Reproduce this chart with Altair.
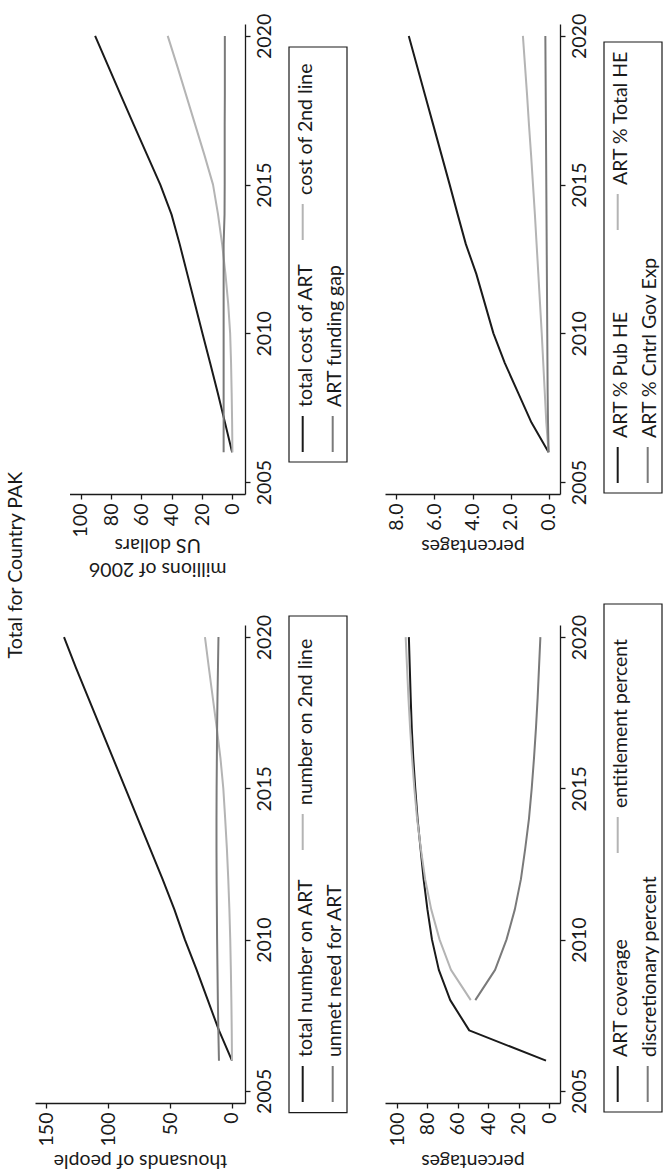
import altair as alt
import pandas as pd

FONT = "Lato"
FS = 19.5
BLACK = "#1a1a1a"
LIGHT = "#b4b4b4"
MID = "#7a7a7a"

years = [2006, 2007, 2008, 2009, 2010, 2011, 2012, 2013, 2014, 2015, 2016, 2017, 2018, 2019, 2020]
years_split = [2008, 2009, 2010, 2011, 2012, 2013, 2014, 2015, 2016, 2017, 2018, 2019, 2020]
year_ticks = [2005, 2010, 2015, 2020]

# thousands of people
total_on_art = [0.0, 10.5, 19.5, 28.5, 38.0, 46.5, 56.0, 66.0, 76.0, 86.0, 96.0, 106.0, 116.0, 126.0, 135.5]
on_2nd_line = [0.0, 0.2, 0.5, 0.9, 1.4, 2.1, 3.0, 4.1, 5.5, 7.0, 9.3, 12.3, 15.5, 18.7, 21.8]
unmet_need = [10.5, 11.0, 11.4, 11.7, 12.0, 12.2, 12.4, 12.5, 12.5, 12.4, 12.2, 12.0, 11.7, 11.3, 10.9]
people_ticks = [0, 50, 100, 150]

# millions of 2006 US dollars
total_cost = [0.2, 4.9, 9.7, 14.7, 19.8, 24.8, 29.8, 34.8, 40.2, 47.6, 56.3, 65.0, 73.6, 82.1, 90.6]
cost_2nd = [0.0, 0.2, 0.5, 0.9, 1.5, 2.8, 4.6, 6.8, 9.5, 12.8, 18.5, 24.5, 30.5, 36.5, 42.7]
funding_gap = [5.8, 5.8, 5.8, 5.8, 5.8, 5.8, 5.8, 5.8, 5.2, 5.1, 5.1, 5.1, 5.0, 5.0, 5.0]
dollar_ticks = [0, 20, 40, 60, 80, 100]

# percentages (coverage)
art_coverage = [2.0, 52.5, 65.0, 72.5, 77.0, 80.0, 82.5, 84.5, 86.5, 88.0, 89.3, 90.3, 91.0, 91.6, 92.2]
entitlement = [51.5, 64.5, 72.0, 77.5, 81.5, 84.3, 86.8, 88.6, 90.1, 91.4, 92.5, 93.4, 94.3]
discretionary = [48.5, 35.5, 28.0, 22.5, 18.5, 15.7, 13.2, 11.4, 9.9, 8.6, 7.5, 6.6, 5.7]
pct_ticks = [0, 20, 40, 60, 80, 100]

# percentages (spending shares)
pct_pub_he = [0.0, 0.9, 1.6, 2.3, 2.9, 3.35, 3.8, 4.35, 4.78, 5.2, 5.63, 6.06, 6.49, 6.92, 7.35]
pct_total_he = [0.0, 0.12, 0.2, 0.28, 0.36, 0.45, 0.54, 0.63, 0.72, 0.82, 0.92, 1.03, 1.13, 1.24, 1.35]
pct_cntrl_gov = [0.0, 0.03, 0.05, 0.06, 0.07, 0.08, 0.09, 0.1, 0.11, 0.12, 0.13, 0.14, 0.15, 0.16, 0.17]
share_ticks = [0, 2, 4, 6, 8]

TOP_H = 470
BOT_H = 478
W1 = 210
W2 = 175
YDOM = [2004.6, 2020.4]


def long_df(series):
    rows = []
    for name, yrs, vals in series:
        for y, v in zip(yrs, vals):
            rows.append({"year": y, "value": v, "series": name})
    return pd.DataFrame(rows)


dummy = pd.DataFrame({"k": [0]})


def legend_layers(width, box, entries):
    layers = [
        alt.Chart(dummy).mark_rect(fillOpacity=0, stroke=BLACK, strokeWidth=1.2).encode(
            x=alt.value(width + 44), x2=alt.value(width + 102),
            y=alt.value(box[0]), y2=alt.value(box[1]))
    ]
    for label, color, row, sym_start in entries:
        sx = width + (57.7 if row == 0 else 87.7)
        tx = width + (66.5 if row == 0 else 96)
        layers.append(
            alt.Chart(dummy).mark_rule(strokeWidth=2, color=color).encode(
                x=alt.value(sx), y=alt.value(sym_start), y2=alt.value(sym_start - 36)))
        layers.append(
            alt.Chart(dummy).mark_text(angle=270, align="left", baseline="alphabetic",
                                       font=FONT, fontSize=FS, color=BLACK).encode(
                x=alt.value(tx), y=alt.value(sym_start - 45), text=alt.value(label)))
    return layers


def panel(series, colors, dom, rng, ticks, fmt, title, width, height, box, entries,
          title_y=None):
    df = long_df(series)
    names = [s[0] for s in series]
    axis_kw = dict(values=ticks, format=fmt, title=title, orient="bottom",
                   labelAngle=270, labelAlign="right", labelBaseline="middle",
                   labelPadding=4, tickSize=5, titleAngle=180, titleLineHeight=24,
                   labelFlush=False, labelOverlap=False, grid=False)
    if title_y is None:
        axis_kw.update(titleBaseline="bottom", titlePadding=5)
    else:
        axis_kw.update(titleBaseline="alphabetic", titleY=title_y)
    lines = alt.Chart(df).mark_line(strokeWidth=2, strokeJoin="round").encode(
        x=alt.X("value:Q",
                scale=alt.Scale(domain=dom, range=rng, nice=False, zero=False),
                axis=alt.Axis(**axis_kw)),
        y=alt.Y("year:Q",
                scale=alt.Scale(domain=YDOM, nice=False, zero=False),
                axis=alt.Axis(values=year_ticks, format="d", title=None, orient="right",
                              labelAngle=270, labelAlign="center", labelBaseline="top",
                              labelPadding=5, tickSize=5, labelFlush=False,
                              labelOverlap=False, grid=False)),
        color=alt.Color("series:N", scale=alt.Scale(domain=names, range=colors), legend=None),
        order=alt.Order("year:Q"),
    )
    return alt.layer(lines, *legend_layers(width, box, entries)).properties(
        width=width, height=height)


money = panel(
    [("total cost of ART", years, total_cost),
     ("cost of 2nd line", years, cost_2nd),
     ("ART funding gap", years, funding_gap)],
    [BLACK, LIGHT, MID], [107.5, -8.3], [34.5, W1], dollar_ticks, "d",
    ["millions of 2006", "US dollars"], W1, TOP_H, (23, 438),
    [("total cost of ART", BLACK, 0, 428),
     ("cost of 2nd line", LIGHT, 0, 216),
     ("ART funding gap", MID, 1, 428)],
    title_y=68)

shares = panel(
    [("ART % Pub HE", years, pct_pub_he),
     ("ART % Total HE", years, pct_total_he),
     ("ART % Cntrl Gov Exp", years, pct_cntrl_gov)],
    [BLACK, LIGHT, MID], [8.6, -0.6], [0, W2], share_ticks, ".1f",
    "percentages", W2, TOP_H, (18, 469),
    [("ART % Pub HE", BLACK, 0, 459),
     ("ART % Total HE", LIGHT, 0, 206),
     ("ART % Cntrl Gov Exp", MID, 1, 459)])

people = panel(
    [("total number on ART", years, total_on_art),
     ("number on 2nd line", years, on_2nd_line),
     ("unmet need for ART", years, unmet_need)],
    [BLACK, LIGHT, MID], [158.9, -10.5], [0, W1], people_ticks, "d",
    "thousands of people", W1, BOT_H, (-9, 487.7),
    [("total number on ART", BLACK, 0, 477),
     ("number on 2nd line", LIGHT, 0, 225),
     ("unmet need for ART", MID, 1, 477)])

coverage = panel(
    [("ART coverage", years, art_coverage),
     ("entitlement percent", years_split, entitlement),
     ("discretionary percent", years_split, discretionary)],
    [BLACK, LIGHT, MID], [107.9, -7.2], [0, W2], pct_ticks, "d",
    "percentages", W2, BOT_H, (-21, 487),
    [("ART coverage", BLACK, 0, 477),
     ("entitlement percent", LIGHT, 0, 228),
     ("discretionary percent", MID, 1, 477)])

chart = alt.concat(money, shares, people, coverage, columns=2,
                   spacing={"row": 25, "column": 37}).properties(
    title=alt.TitleParams("Total for Country PAK", orient="left", anchor="middle",
                          font=FONT, fontSize=FS, fontWeight="normal", color=BLACK,
                          offset=9, dx=27),
    padding={"left": 5, "top": 13, "right": 2, "bottom": 2},
).configure_view(strokeWidth=0).configure_axis(
    domainColor=BLACK, tickColor=BLACK, labelColor=BLACK, titleColor=BLACK,
    labelFont=FONT, titleFont=FONT, labelFontSize=FS, titleFontSize=FS,
    titleFontWeight="normal", domainWidth=1.3, tickWidth=1.3)

chart.save("out.html", embed_options={"renderer": "svg", "actions": False})
